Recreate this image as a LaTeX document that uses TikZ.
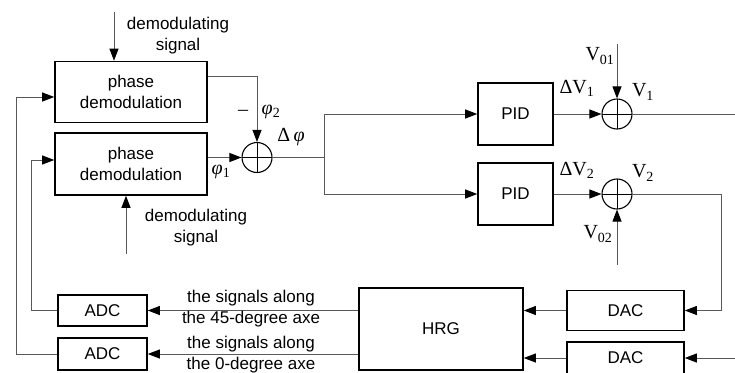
\documentclass[tikz,border=0pt]{standalone}
\usepackage{fontspec}
\setmainfont{Liberation Serif}
\setsansfont{Liberation Sans}
\usetikzlibrary{arrows.meta,calc,positioning}

\begin{document}
\begin{tikzpicture}[
  x=1pt, y=-1pt,
  font=\sffamily\fontsize{17}{21}\selectfont,
  box/.style={draw, line width=1.6pt, align=center, inner sep=0pt},
  sum/.style={circle, draw, line width=1.1pt, minimum size=30pt, inner sep=0pt,
    path picture={\draw[line width=0.9pt] (path picture bounding box.north) -- (path picture bounding box.south)
      (path picture bounding box.west) -- (path picture bounding box.east);}},
  arr/.style={-{Triangle[length=12pt,width=9pt,color=black]}, line width=0.9pt, draw=black!65},
  wire/.style={line width=0.9pt, draw=black!65},
  lbl/.style={font=\rmfamily\fontsize{20}{22}\selectfont, inner sep=0pt},
  note/.style={align=center, inner sep=0pt}
]
\useasboundingbox (0,0) rectangle (735,372);

% Phase demodulation stage
\node[box, minimum width=152pt, minimum height=61pt] (pdA) at (131,92) {phase\\demodulation};
\node[box, minimum width=152pt, minimum height=62pt] (pdB) at (131,164) {phase\\demodulation};
\node[sum] (sumA) at (257,157.5) {};

\coordinate (dmA) at (114,12);
\coordinate (dmB) at (126,254);
\draw[arr] (dmA) -- (dmA |- pdA.north);
\draw[arr] (dmB) -- (dmB |- pdB.south);
\node[note] (dmAtxt) at (178,36) {demodulating\\signal};
\node[note] (dmBtxt) at (196,228) {demodulating\\signal};

\draw[arr] ($(pdA.north east)!0.25!(pdA.south east)$) -| (sumA.north);
\draw[arr] (pdB.east |- sumA) -- (sumA.west);
\node[lbl] (minus) at (243,113) {–};
\node[lbl] (phi2) at (271,112) {\textit{φ}\textsubscript{2}};
\node[lbl] (phi1) at (221,172) {\textit{φ}\textsubscript{1}};
\node[lbl] (dphi) at (291,137) {Δ\,\textit{φ}};

% PID loops
\node[box, minimum width=75pt, minimum height=62pt] (pidA) at (515.5,114) {PID};
\node[box, minimum width=75pt, minimum height=62pt] (pidB) at (515.5,194) {PID};
\node[sum] (sumB) at (617,114) {};
\node[sum] (sumC) at (617,194) {};

\coordinate (split) at (324,157.5);
\draw[wire] (sumA.east) -- (split);
\draw[arr] (split) |- (pidA.west);
\draw[arr] (split) |- (pidB.west);
\draw[arr] (pidA.east) -- (sumB.west);
\draw[arr] (pidB.east) -- (sumC.west);

\coordinate (v01) at (617,44);
\coordinate (v02) at (617,265);
\coordinate (vout) at (735,114);
\draw[arr] (v01) -- (sumB.north);
\draw[arr] (v02) -- (sumC.south);
\draw[wire] (sumB.east) -- (vout);

\node[lbl] (dV1) at (577,88) {ΔV\textsubscript{1}};
\node[lbl] (V1) at (643,92) {V\textsubscript{1}};
\node[lbl] (V01) at (600,56) {V\textsubscript{01}};
\node[lbl] (dV2) at (577,170) {ΔV\textsubscript{2}};
\node[lbl] (V2) at (643,173) {V\textsubscript{2}};
\node[lbl] (V02) at (598,234) {V\textsubscript{02}};

% Resonator with converters
\node[box, minimum width=164pt, minimum height=82pt] (hrg) at (441,329) {HRG};
\node[box, minimum width=117pt, minimum height=40pt] (dacA) at (625.5,310.5) {DAC};
\node[box, minimum width=117pt, minimum height=32pt] (dacB) at (625.5,358) {DAC};
\node[box, minimum width=89pt, minimum height=31pt] (adcA) at (102.5,310.5) {ADC};
\node[box, minimum width=89pt, minimum height=32pt] (adcB) at (102.5,354) {ADC};

\coordinate (fb) at (721,194);
\coordinate (din) at (735,358);
\draw[arr] (sumC.east) -- (fb) |- (dacA.east);
\draw[arr] (din) -- (dacB.east);
\draw[arr] (dacA.west) -- (dacA.west -| hrg.east);
\draw[arr] (dacB.west) -- (dacB.west -| hrg.east);
\draw[arr] (hrg.west |- adcA) -- (adcA.east);
\draw[arr] (hrg.west |- adcB) -- (adcB.east);
\node[note] (axA) at (251,308.5) {the signals along\\the 45-degree axe};
\node[note] (axB) at (251,355) {the signals along\\the 0-degree axe};

% Feedback to the demodulators
\coordinate (fbA) at (31,310.5);
\coordinate (fbB) at (16,354);
\draw[arr] (adcA.west) -- (fbA) |- ($(pdB.west)+(0,-4)$);
\draw[arr] (adcB.west) -- (fbB) |- ($(pdA.west)+(0,5)$);

\end{tikzpicture}
\end{document}
